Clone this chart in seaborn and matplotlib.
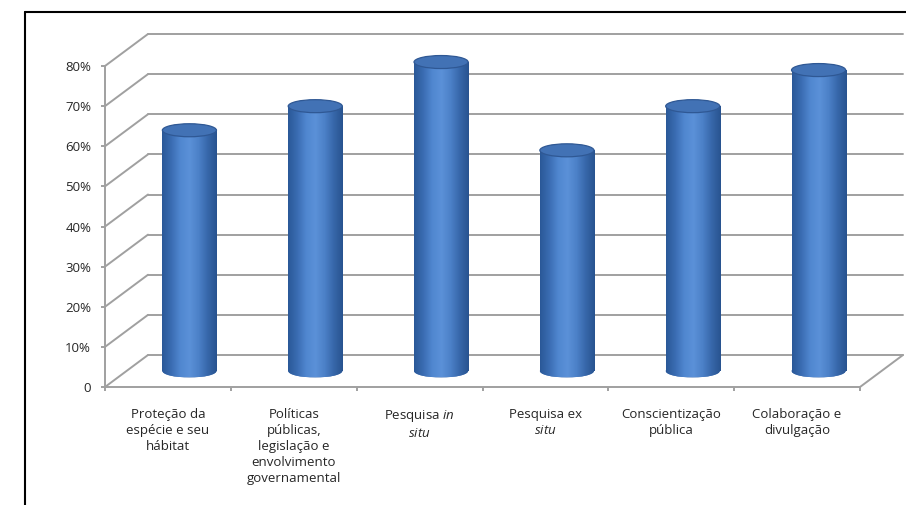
import numpy as np
import pandas as pd
import matplotlib.pyplot as plt
import matplotlib.transforms as mtransforms
from matplotlib.patches import Ellipse, ConnectionPatch
from matplotlib.colors import LinearSegmentedColormap
from matplotlib.lines import Line2D
import seaborn as sns

# dados
categorias = [
    'Proteção da\nespécie e seu\nhábitat',
    'Políticas\npúblicas,\nlegislação e\nenvolvimento\ngovernamental',
    'Pesquisa $\\mathit{in}$\n$\\mathit{situ}$',
    'Pesquisa ex\n$\\mathit{situ}$',
    'Conscientização\npública',
    'Colaboração e\ndivulgação',
]
valores = [0.60, 0.66, 0.77, 0.55, 0.66, 0.75]
niveis = [0.0, 0.1, 0.2, 0.3, 0.4, 0.5, 0.6, 0.7, 0.8]
rotulos_y = ['0', '10%', '20%', '30%', '40%', '50%', '60%', '70%', '80%']

sns.set_theme(style='white')
plt.rcParams['font.family'] = ['Open Sans', 'DejaVu Sans']
plt.rcParams['mathtext.fontset'] = 'custom'
plt.rcParams['mathtext.rm'] = 'Open Sans'
plt.rcParams['mathtext.it'] = 'Open Sans:italic'

cinza = '#a0a0a0'
cor_texto = '#262626'

fig = plt.figure(figsize=(9.06, 5.05), dpi=100)
ax = fig.add_axes([105 / 906, 118 / 505, 755 / 906, 321 / 505])

# profundidade do "3D": parede do fundo e meio da caixa
fundo = mtransforms.offset_copy(ax.transData, fig=fig, x=43, y=32, units='dots')
meio = mtransforms.offset_copy(ax.transData, fig=fig, x=21.5, y=16, units='dots')

df = pd.DataFrame({'categoria': categorias, 'valor': valores})
sns.barplot(data=df, x='categoria', y='valor', width=0.43, color='#4474b8',
            errorbar=None, ax=ax, zorder=3)
barras = list(ax.patches)

xlim = (-0.5, len(categorias) - 0.5)
ylim = (0, 0.8)

# parede do fundo + linhas diagonais da parede esquerda
for v in niveis:
    ax.plot(xlim, [v, v], transform=fundo, color=cinza, lw=1.4,
            clip_on=False, zorder=1)
    con = ConnectionPatch(xyA=(xlim[0], v), coordsA=ax.transData,
                          xyB=(xlim[0], v), coordsB=fundo,
                          color=cinza, lw=1.4, zorder=1)
    ax.add_artist(con)
# aresta direita do piso
ax.add_artist(ConnectionPatch(xyA=(xlim[1], 0), coordsA=ax.transData,
                              xyB=(xlim[1], 0), coordsB=fundo,
                              color=cinza, lw=1.4, zorder=1))

# cilindros
cmap = LinearSegmentedColormap.from_list(
    'cil', ['#2a5897', '#3a6cb2', '#5087d0', '#5b91d8', '#4c81c8', '#3767aa', '#28538f'])
grad = np.linspace(0, 1, 256).reshape(1, -1)
elip_h = 13 / (321 / 0.8)

for barra in barras:
    barra.set_transform(meio)
    barra.set_clip_on(False)
    barra.set_edgecolor('none')
    x0 = barra.get_x()
    w = barra.get_width()
    h = barra.get_height()
    xc = x0 + w / 2

    im = ax.imshow(grad, cmap=cmap, extent=(x0, x0 + w, 0, h), aspect='auto',
                   transform=meio, zorder=3.1, interpolation='bilinear')
    im.set_clip_path(barra)

    base = Ellipse((xc, 0), w, elip_h, transform=meio, facecolor='#4474b8',
                   edgecolor='none', zorder=2.9, clip_on=False)
    ax.add_patch(base)
    im2 = ax.imshow(grad, cmap=cmap, extent=(x0, x0 + w, -elip_h / 2, 0),
                    aspect='auto', transform=meio, zorder=3.0,
                    interpolation='bilinear')
    im2.set_clip_path(base)

    topo = Ellipse((xc, h), w, elip_h, transform=meio, facecolor='#4272b5',
                   edgecolor='#2f5894', lw=0.9, zorder=4, clip_on=False)
    ax.add_patch(topo)

ax.set_xlim(xlim)
ax.set_ylim(ylim)
ax.set_facecolor('none')

# eixos
for lado in ['top', 'right']:
    ax.spines[lado].set_visible(False)
for lado in ['left', 'bottom']:
    ax.spines[lado].set_color(cinza)
    ax.spines[lado].set_linewidth(1.4)

ax.set_yticks(niveis)
ax.set_yticklabels(rotulos_y)
ax.set_xticks(range(len(categorias)))
ax.set_xticklabels(categorias, linespacing=1.3)
ax.set_xticks(np.arange(xlim[0], xlim[1] + 0.01, 1), minor=True)
ax.tick_params(axis='y', left=True, length=3, width=1.4, color=cinza,
               labelsize=9.5, labelcolor=cor_texto, pad=7)
ax.tick_params(axis='x', which='major', bottom=False, labelsize=9.5,
               labelcolor=cor_texto, pad=9)
ax.tick_params(axis='x', which='minor', bottom=True, length=3, width=1.4,
               color=cinza)
ax.set_xlabel('')
ax.set_ylabel('')
ax.grid(False)

# moldura
fig.add_artist(Line2D([25 / 906, 1], [1 - 12 / 505, 1 - 12 / 505],
                      transform=fig.transFigure, color='black', lw=1.5))
fig.add_artist(Line2D([25 / 906, 25 / 906], [0, 1 - 12 / 505],
                      transform=fig.transFigure, color='black', lw=1.5))

fig.savefig('out.png', dpi=100)
